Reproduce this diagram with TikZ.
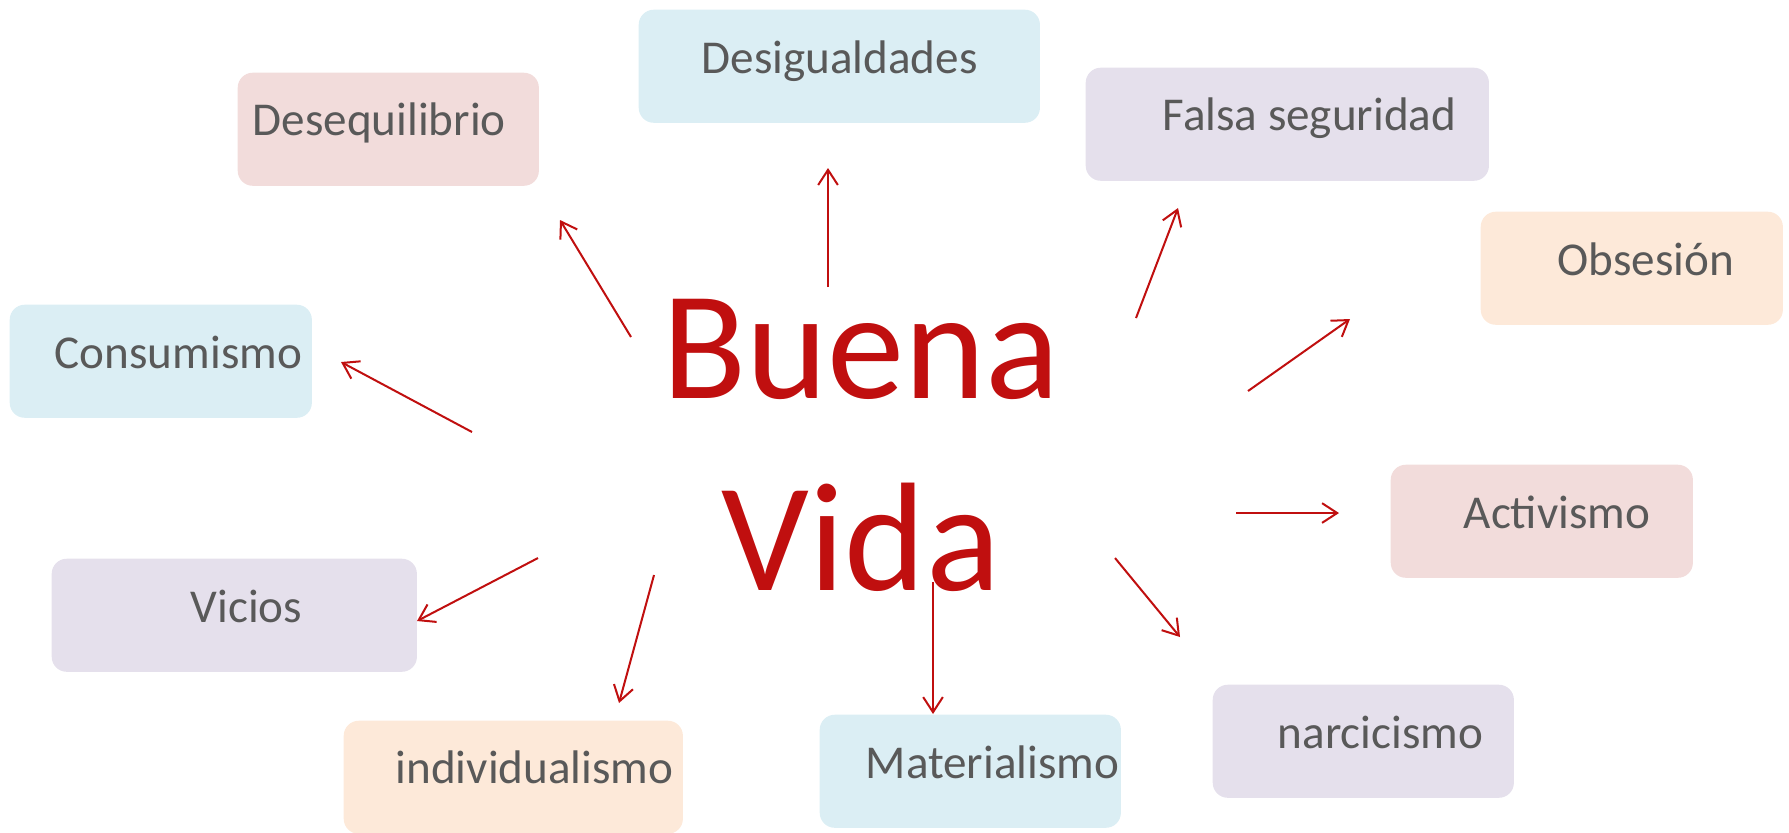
\documentclass[tikz,border=0pt]{standalone}
\usepackage{fontspec}
\setmainfont{Carlito}
\usepackage{tikz}
\usetikzlibrary{arrows.meta}
\definecolor{txtgray}{HTML}{595959}
\definecolor{bvred}{HTML}{C00F0F}
\definecolor{pinkbox}{HTML}{F2DCDB}
\definecolor{bluebox}{HTML}{DBEEF4}
\definecolor{lilabox}{HTML}{E5E0EC}
\definecolor{peachbox}{HTML}{FDE9D9}
\tikzstyle{box} = [anchor=north west, rounded corners=0.15cm, minimum height=1.13cm, inner sep=0pt]
\tikzstyle{lbl} = [anchor=base west, inner sep=0pt, text=txtgray, font=\fontsize{13.4}{16}\selectfont]
\tikzstyle{arr} = [draw=bvred, line width=0.57pt, -{Straight Barb[length=4.3pt, width=5.6pt]}]

\begin{document}
\begin{tikzpicture}[x=0.01cm, y=-0.01cm]
\useasboundingbox (0,0) rectangle (1789,832);

% boxes
\node [box, fill=pinkbox,  minimum width=3.01cm] at (237,72)  (deseq)  {};
\node [box, fill=bluebox,  minimum width=4.01cm] at (638,9)   (desig)  {};
\node [box, fill=lilabox,  minimum width=4.03cm] at (1085,67) (falsa)  {};
\node [box, fill=peachbox, minimum width=3.02cm] at (1480,211) (obses) {};
\node [box, fill=pinkbox,  minimum width=3.02cm] at (1390,464) (activ) {};
\node [box, fill=lilabox,  minimum width=3.01cm] at (1212,684) (narc)  {};
\node [box, fill=bluebox,  minimum width=3.01cm] at (819,714)  (mater) {};
\node [box, fill=peachbox, minimum width=3.39cm] at (343,720)  (indiv) {};
\node [box, fill=lilabox,  minimum width=3.65cm] at (51,558)   (vicios) {};
\node [box, fill=bluebox,  minimum width=3.02cm] at (9,304)    (consum) {};

% labels
\node [lbl] at (252,135)  (deseq-t)  {Desequilibrio};
\node [lbl] at (701,73)   (desig-t)  {Desigualdades};
\node [lbl] at (1162,130) (falsa-t)  {Falsa seguridad};
\node [lbl] at (1557,275) (obses-t)  {Obsesión};
\node [lbl] at (1463,528) (activ-t)  {Activismo};
\node [lbl] at (1277,748) (narc-t)   {narcicismo};
\node [lbl] at (865,778)  (mater-t)  {Materialismo};
\node [lbl] at (395,783)  (indiv-t)  {individualismo};
\node [lbl] at (190,622)  (vicios-t) {Vicios};
\node [lbl] at (54,368)   (consum-t) {Consumismo};

% centre
\node [text=bvred, align=center, inner sep=0pt, anchor=base,
       font=\fontsize{44}{54.6}\selectfont] at (861,590) (bv) {Buena\\Vida};

% arrow ends
\coordinate (s1)  at (631,337);  \coordinate (t1)  at (560,220);
\coordinate (s2)  at (828,287);  \coordinate (t2)  at (828,168);
\coordinate (s3)  at (1136,318); \coordinate (t3)  at (1178,208);
\coordinate (s4)  at (1248,391); \coordinate (t4)  at (1350,319);
\coordinate (s5)  at (1236,513); \coordinate (t5)  at (1339,513);
\coordinate (s6)  at (1115,558); \coordinate (t6)  at (1180,637);
\coordinate (s7)  at (933,582);  \coordinate (t7)  at (933,714);
\coordinate (s8)  at (654,575);  \coordinate (t8)  at (619,703);
\coordinate (s9)  at (538,558);  \coordinate (t9)  at (417,621);
\coordinate (s10) at (472,432);  \coordinate (t10) at (341,362);

% arrows
\foreach \i in {1,...,10}
  \path [arr] (s\i) -- (t\i);

\end{tikzpicture}
\end{document}
